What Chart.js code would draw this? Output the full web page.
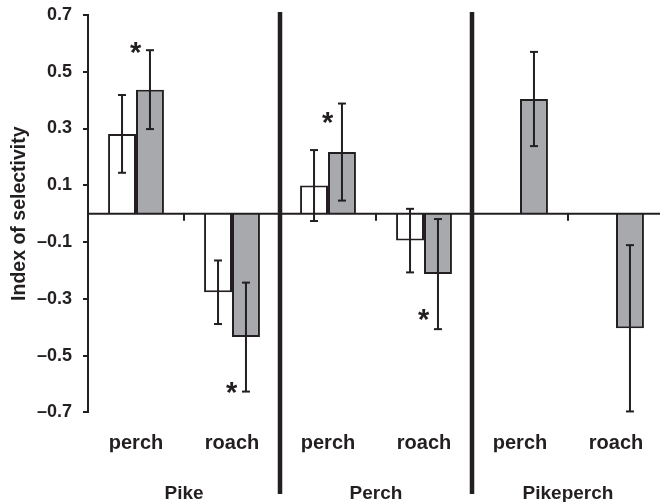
<!DOCTYPE html>
<html><head><meta charset="utf-8">
<style>
html,body{margin:0;padding:0;background:#fff;overflow:hidden;width:660px;height:502px}
#wrap{position:absolute;left:0;top:0;width:664px;height:502px}
</style>
<script src="https://cdn.jsdelivr.net/npm/chart.js@4.4.1/dist/chart.umd.min.js"></script>
</head><body><div id="wrap"><canvas id="c" width="664" height="502"></canvas></div>
<script>
const categories = ['perch','roach','perch','roach','perch','roach'];
const groups = ['Pike','Perch','Pikeperch'];
const whiteVals = [0.281,-0.277,0.099,-0.095,null,null];
const whiteErr  = [0.137,0.112,0.125,0.112,null,null];
const grayVals  = [0.437,-0.435,0.217,-0.213,0.404,-0.404];
const grayErr   = [0.139,0.192,0.171,0.194,0.166,0.293];
const starIdx = [0,1,2,3];
const starY   = [0.583,-0.615,0.337,-0.357];
const yTicks  = [-0.7,-0.5,-0.3,-0.1,0.1,0.3,0.5,0.7];
const sepAfter   = [1,3];
const minorAfter = [0,2,4];

const DARK = '#231f20';
const GRAY = '#a7a9ac';
const AREA_TOP = 15, AREA_BOTTOM = 412.3;
Chart.defaults.font.family = "'Liberation Sans', Arial, sans-serif";
Chart.defaults.font.weight = 'bold';
Chart.defaults.color = DARK;

let xgHeight = 49.7;

function line(ctx,x1,y1,x2,y2){ctx.beginPath();ctx.moveTo(x1,y1);ctx.lineTo(x2,y2);ctx.stroke();}

const decor = {
  id:'decor',
  afterDatasetsDraw(chart){
    const {ctx, chartArea, scales:{x,y}} = chart;
    ctx.save();
    ctx.strokeStyle = DARK; ctx.fillStyle = DARK; ctx.lineCap = 'butt';
    const y0 = y.getPixelForValue(0);
    ctx.lineWidth = 2;
    line(ctx, chartArea.left, y0, chartArea.right, y0);
    const mid = i => (x.getPixelForValue(i) + x.getPixelForValue(i+1)) / 2;
    minorAfter.forEach(i => { const px = mid(i); line(ctx, px, y0, px, y0 + 7); });
    chart.data.datasets.forEach((ds, di) => {
      const meta = chart.getDatasetMeta(di);
      ds.errors.forEach((e, i) => {
        const v = ds.data[i];
        if (e == null || v == null) return;
        const bx = meta.data[i].x;
        const yt = y.getPixelForValue(v + e), yb = y.getPixelForValue(v - e);
        line(ctx, bx, yt, bx, yb);
        line(ctx, bx - 4, yt, bx + 4, yt);
        line(ctx, bx - 4, yb, bx + 4, yb);
      });
    });
    ctx.lineWidth = 4.5;
    sepAfter.forEach(i => { const px = mid(i); line(ctx, px, chartArea.top - 3, px, chart.height - 8); });
    ctx.font = "bold 29px 'Liberation Sans', Arial, sans-serif";
    ctx.textAlign = 'center'; ctx.textBaseline = 'alphabetic';
    const m = ctx.measureText('*');
    const gmeta = chart.getDatasetMeta(1);
    starIdx.forEach((idx, k) => {
      const cx = gmeta.data[idx].x - 14;
      const cy = y.getPixelForValue(starY[k]);
      const by = cy + (m.actualBoundingBoxAscent - m.actualBoundingBoxDescent) / 2;
      const bxOff = (m.actualBoundingBoxLeft - m.actualBoundingBoxRight) / 2;
      ctx.fillText('*', cx + bxOff, by);
    });
    ctx.restore();
  }
};

const chart = new Chart(document.getElementById('c'), {
  type: 'bar',
  data: {
    labels: categories,
    datasets: [
      {label:'a', data: whiteVals, errors: whiteErr, backgroundColor:'#ffffff', borderColor: DARK, borderWidth: 2},
      {label:'b', data: grayVals, errors: grayErr, backgroundColor: GRAY, borderColor: DARK, borderWidth: 2}
    ]
  },
  options: {
    responsive: false, animation: false,
    layout: {padding: {top: AREA_TOP, left: 0, right: 0, bottom: 0}},
    plugins: {legend: {display: false}, tooltip: {enabled: false}},
    datasets: {bar: {categoryPercentage: 0.582, barPercentage: 1}},
    scales: {
      x: {
        type: 'category', position: 'bottom', offset: true, weight: 0,
        grid: {display: false, drawTicks: false}, border: {display: false},
        ticks: {font: {size: 20}, padding: 19, maxRotation: 0, autoSkip: false},
        afterFit: s => { s.height = 40; s.paddingLeft = 0; s.paddingRight = 0; }
      },
      xg: {
        type: 'category', labels: groups, position: 'bottom', offset: true, weight: 1,
        grid: {display: false, drawTicks: false}, border: {display: false},
        ticks: {font: {size: 19}, padding: 30, maxRotation: 0, autoSkip: false},
        afterFit: s => { s.height = xgHeight; s.paddingLeft = 0; s.paddingRight = 0; }
      },
      y: {
        min: -0.7, max: 0.7,
        afterBuildTicks: s => { s.ticks = yTicks.map(v => ({value: v})); },
        ticks: {font: {size: 18}, padding: 11,
          callback: v => (v < 0 ? '\u2013' : '') + Math.abs(v).toFixed(1)},
        grid: {drawOnChartArea: false, tickLength: 5, color: DARK, lineWidth: 2},
        border: {display: true, color: DARK, width: 2},
        title: {display: true, text: 'Index of selectivity', font: {size: 19.5}, padding: {top: 8, bottom: 0}},
        afterFit: s => { s.width = 88; s.paddingTop = 0; s.paddingBottom = 0; }
      }
    }
  },
  plugins: [decor]
});
// align the plot area with the reference frame
for (let k = 0; k < 4; k++) {
  const ca = chart.chartArea;
  const dTop = AREA_TOP - ca.top;
  const dBot = AREA_BOTTOM - ca.bottom;
  if (Math.abs(dTop) < 0.05 && Math.abs(dBot) < 0.05) break;
  chart.options.layout.padding.top += dTop;
  xgHeight -= dBot;
  chart.update();
}
</script>
</body></html>
